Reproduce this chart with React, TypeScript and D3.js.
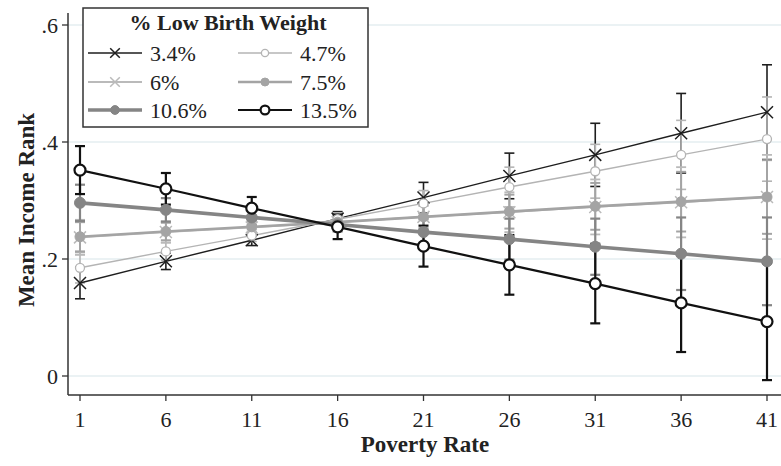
import React from "react";
import * as d3 from "d3";

// poverty rate values on the x axis
const povertyRates = [1, 6, 11, 16, 21, 26, 31, 36, 41];
const yTicks = [0, 0.2, 0.4, 0.6];

const seriesNames = ["3.4%", "4.7%", "6%", "7.5%", "10.6%", "13.5%"];

// predicted mean income rank, one array per % low birth weight
const lbw34 = [0.159, 0.196, 0.232, 0.269, 0.305, 0.342, 0.378, 0.415, 0.451];
const lbw47 = [0.185, 0.213, 0.240, 0.268, 0.295, 0.323, 0.350, 0.378, 0.405];
const lbw60 = [0.237, 0.246, 0.254, 0.263, 0.272, 0.280, 0.289, 0.297, 0.306];
const lbw75 = [0.238, 0.247, 0.255, 0.263, 0.272, 0.281, 0.290, 0.298, 0.306];
const lbw106 = [0.296, 0.284, 0.271, 0.259, 0.246, 0.234, 0.221, 0.209, 0.196];
const lbw135 = [0.352, 0.320, 0.287, 0.255, 0.222, 0.190, 0.158, 0.125, 0.093];

// half widths of the confidence intervals
const ci34 = [0.027, 0.014, 0.009, 0.012, 0.026, 0.039, 0.054, 0.068, 0.081];
const ci47 = [0.026, 0.015, 0.010, 0.011, 0.022, 0.034, 0.046, 0.059, 0.072];
const ci60 = [0.030, 0.018, 0.010, 0.010, 0.021, 0.034, 0.047, 0.060, 0.072];
const ci75 = [0.025, 0.015, 0.009, 0.010, 0.019, 0.029, 0.040, 0.051, 0.063];
const ci106 = [0.031, 0.020, 0.013, 0.012, 0.022, 0.035, 0.048, 0.062, 0.075];
const ci135 = [0.041, 0.027, 0.019, 0.021, 0.035, 0.051, 0.068, 0.084, 0.100];

const values = [lbw34, lbw47, lbw60, lbw75, lbw106, lbw135];
const cis = [ci34, ci47, ci60, ci75, ci106, ci135];

type Style = { color: string; width: number; marker: "x" | "open" | "filled"; r: number; ciWidth: number };
const styles: Style[] = [
  { color: "#1e1e1e", width: 1.4, marker: "x", r: 6, ciWidth: 1.6 },
  { color: "#b4b4b4", width: 1.4, marker: "open", r: 4.5, ciWidth: 1.6 },
  { color: "#bababa", width: 1.8, marker: "x", r: 6, ciWidth: 1.8 },
  { color: "#a4a4a4", width: 2.6, marker: "filled", r: 5, ciWidth: 2 },
  { color: "#858585", width: 3.6, marker: "filled", r: 5.5, ciWidth: 2.2 },
  { color: "#111111", width: 2.2, marker: "open", r: 5.5, ciWidth: 2.2 },
];

const font = "'Liberation Serif', 'Times New Roman', serif";

const Marker = ({ x, y, s, scale = 1 }: { x: number; y: number; s: Style; scale?: number }) => {
  if (s.marker === "x") {
    const h = s.r * scale;
    return (
      <path
        d={`M${x - h},${y - h}L${x + h},${y + h}M${x - h},${y + h}L${x + h},${y - h}`}
        stroke={s.color}
        strokeWidth={1.5}
      />
    );
  }
  return (
    <circle
      cx={x}
      cy={y}
      r={s.r * scale}
      fill={s.marker === "open" ? "#fff" : s.color}
      stroke={s.color}
      strokeWidth={s.marker === "open" ? (s.color === "#111111" ? 2.2 : 1.3) : 1}
    />
  );
};

export default function App() {
  const width = 781;
  const height = 466;

  const x = d3.scaleLinear().domain([1, 41]).range([80, 767]);
  const y = d3.scaleLinear().domain([0, 0.6]).range([376, 25]);

  const line = d3
    .line<number>()
    .x((_, i) => x(povertyRates[i]))
    .y((d) => y(d));

  const axisX = 68;
  const axisY = 395;

  const legendRows = [53, 82, 110];
  const legendCols = [88, 238];

  return (
    <div style={{ position: "absolute", left: 0, top: 0 }}>
      <svg width={width} height={height} style={{ display: "block", background: "#fff" }} fontFamily={font}>
        {/* gridlines */}
        {yTicks.map((t) => (
          <line key={t} x1={axisX} x2={width} y1={y(t)} y2={y(t)} stroke="#e4eef0" strokeWidth={1.5} />
        ))}

        {/* confidence intervals */}
        {values.map((vals, si) =>
          vals.map((v, i) => {
            const px = x(povertyRates[i]);
            const lo = y(v - cis[si][i]);
            const hi = y(v + cis[si][i]);
            const s = styles[si];
            return (
              <g key={`ci-${si}-${i}`} stroke={s.color} strokeWidth={s.ciWidth}>
                <line x1={px} x2={px} y1={lo} y2={hi} />
                <line x1={px - 5} x2={px + 5} y1={lo} y2={lo} />
                <line x1={px - 5} x2={px + 5} y1={hi} y2={hi} />
              </g>
            );
          })
        )}

        {/* lines */}
        {values.map((vals, si) => (
          <path key={`l-${si}`} d={line(vals) || ""} fill="none" stroke={styles[si].color} strokeWidth={styles[si].width} />
        ))}

        {/* markers */}
        {values.map((vals, si) =>
          vals.map((v, i) => <Marker key={`m-${si}-${i}`} x={x(povertyRates[i])} y={y(v)} s={styles[si]} />)
        )}

        {/* axes */}
        <line x1={axisX} x2={axisX} y1={13} y2={axisY} stroke="#333" strokeWidth={1.5} />
        <line x1={axisX} x2={width} y1={axisY} y2={axisY} stroke="#333" strokeWidth={1.5} />
        {yTicks.map((t) => (
          <g key={`yt-${t}`}>
            <line x1={axisX - 6} x2={axisX} y1={y(t)} y2={y(t)} stroke="#333" strokeWidth={1.3} />
            <text x={axisX - 10} y={y(t)} dy="0.35em" textAnchor="end" fontSize={22} fill="#222">
              {t === 0 ? "0" : d3.format(".1f")(t).replace(/^0/, "")}
            </text>
          </g>
        ))}
        {povertyRates.map((p) => (
          <g key={`xt-${p}`}>
            <line x1={x(p)} x2={x(p)} y1={axisY} y2={axisY + 6} stroke="#333" strokeWidth={1.3} />
            <text x={x(p)} y={427} textAnchor="middle" fontSize={22} fill="#222">
              {p}
            </text>
          </g>
        ))}

        <text x={425} y={452} textAnchor="middle" fontSize={23} fontWeight="bold" fill="#222">
          Poverty Rate
        </text>
        <text
          transform={`translate(34,${210}) rotate(-90)`}
          textAnchor="middle"
          fontSize={23}
          fontWeight="bold"
          fill="#222"
        >
          Mean Income Rank
        </text>

        {/* legend */}
        <g>
          <rect x={83} y={8} width={285} height={119} fill="#fff" stroke="#333" strokeWidth={1.5} />
          <text x={228} y={30} textAnchor="middle" fontSize={22} fontWeight="bold" fill="#222">
            % Low Birth Weight
          </text>
          {seriesNames.map((name, i) => {
            const col = i % 2;
            const row = Math.floor(i / 2);
            const lx = legendCols[col];
            const ly = legendRows[row];
            const s = styles[i];
            return (
              <g key={name}>
                <line x1={lx} x2={lx + 54} y1={ly} y2={ly} stroke={s.color} strokeWidth={s.width} />
                <Marker x={lx + 27} y={ly} s={s} scale={0.8} />
                <text x={lx + 62} y={ly} dy="0.35em" fontSize={22} fill="#222">
                  {name}
                </text>
              </g>
            );
          })}
        </g>
      </svg>
    </div>
  );
}
